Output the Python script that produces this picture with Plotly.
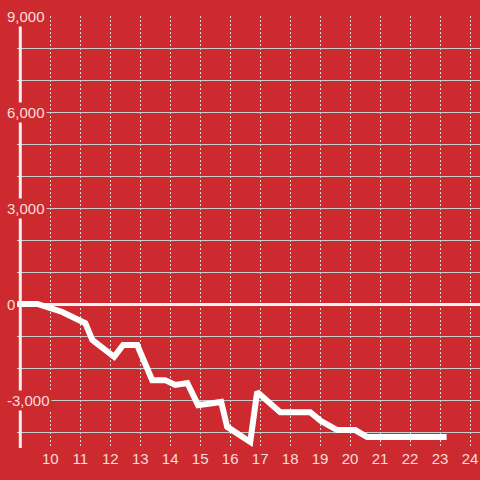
import plotly.graph_objects as go

# data
x_vals = [8.9, 9.57, 10.4, 11.17, 11.4, 12.13, 12.43, 12.9, 13.4, 13.83, 14.17, 14.57,
          14.93, 15.7, 15.9, 16.67, 16.9, 17.67, 18.67, 19.03, 19.57, 20.17, 20.57, 23.22]
y_vals = [0, 0, -250, -600, -1120, -1650, -1280, -1280, -2380, -2380, -2530, -2470,
          -3160, -3060, -3840, -4310, -2750, -3380, -3380, -3660, -3940, -3940, -4160, -4160]
x_ticks = list(range(10, 25))
y_label_vals = [9000, 6000, 3000, 0, -3000]
y_label_text = ["9,000", "6,000", "3,000", "0", "-3,000"]

BG = "#cc2a2f"
LABEL = "rgba(255,255,255,0.85)"
FONT = "Liberation Sans, Arial, sans-serif"

fig = go.Figure()
fig.add_trace(go.Scatter(x=x_vals, y=y_vals, mode="lines",
                         line=dict(color="#ffffff", width=6),
                         hoverinfo="skip", showlegend=False))

fig.add_shape(type="line", xref="x", yref="paper", x0=9, x1=9, y0=0, y1=1,
              line=dict(color="#f2f2f2", width=3), layer="above")

for v, t in zip(y_label_vals, y_label_text):
    fig.add_annotation(xref="paper", yref="y", x=0, y=v, text=t, showarrow=False,
                       xanchor="left", yanchor="middle", xshift=-12,
                       bgcolor=BG, borderpad=1,
                       font=dict(family=FONT, size=15, color=LABEL))

fig.update_layout(
    width=480, height=480,
    margin=dict(l=17, r=0, t=16, b=32),
    paper_bgcolor=BG, plot_bgcolor=BG,
    font=dict(family=FONT, size=15, color=LABEL),
    xaxis=dict(range=[8.89, 24.333], tickvals=x_ticks, showgrid=True,
               gridcolor="#d8d8d8", gridwidth=1, griddash="2px,2px",
               showline=False, zeroline=False, ticks="",
               tickfont=dict(family=FONT, size=15, color=LABEL)),
    yaxis=dict(range=[-4500, 9000], dtick=1000, showgrid=True,
               gridcolor="#cccccc", gridwidth=1, showticklabels=False,
               zeroline=True, zerolinecolor="#f2f2f2", zerolinewidth=3,
               showline=False, ticks=""),
)

fig.write_html("out.html",
               config={"displayModeBar": False},
               post_script="document.body.style.margin='0';"
                           "document.documentElement.style.margin='0';"
                           "document.body.style.overflow='hidden';")
